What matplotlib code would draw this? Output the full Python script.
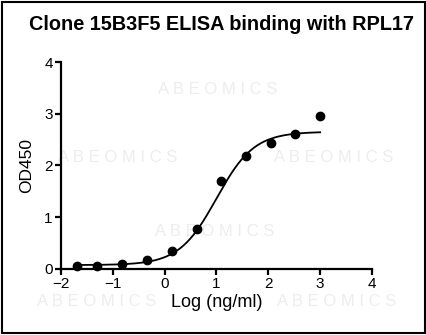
import numpy as np
import matplotlib
matplotlib.use("Agg")
import matplotlib.pyplot as plt
from matplotlib.patches import Rectangle

# Datos
log_conc = [-1.70, -1.30, -0.82, -0.34, 0.14, 0.62, 1.08, 1.57, 2.05, 2.52, 3.00]
od450 = [0.06, 0.06, 0.09, 0.17, 0.35, 0.76, 1.70, 2.18, 2.43, 2.61, 2.95]

# Parametros del ajuste 4PL (curva dibujada)
fit_bottom = 0.07
fit_top = 2.65
fit_logec50 = 1.0
fit_hill = 1.2

title = "Clone 15B3F5 ELISA binding with RPL17"
xticks = [-2, -1, 0, 1, 2, 3, 4]
yticks = [0, 1, 2, 3, 4]

plt.rcParams["font.family"] = ["Liberation Sans", "DejaVu Sans"]

fig = plt.figure(figsize=(4.27, 3.35), dpi=100)
ax = fig.add_axes([61 / 427, 66.3 / 335, 311 / 427, 206.7 / 335])
ax.set_zorder(1)  # ejes por encima de las marcas de agua

# marcas de agua
wm = dict(color="#ededed", fontsize=12, ha="center", va="center", zorder=0)
fig.text(218 / 427, 1 - 90 / 335, "A B E O M I C S", **wm)
fig.text(118 / 427, 1 - 157 / 335, "A B E O M I C S", **wm)
fig.text(334 / 427, 1 - 157 / 335, "A B E O M I C S", **wm)
fig.text(215 / 427, 1 - 232 / 335, "A B E O M I C S", **wm)
fig.text(97 / 427, 1 - 302 / 335, "A B E O M I C S", **wm)
fig.text(337 / 427, 1 - 302 / 335, "A B E O M I C S", **wm)

xs = np.linspace(min(log_conc), max(log_conc), 300)
ys = fit_bottom + (fit_top - fit_bottom) / (1 + 10 ** ((fit_logec50 - xs) * fit_hill))
ax.plot(xs, ys, color="black", lw=1.3, zorder=2)
ax.plot(log_conc, od450, "o", color="black", ms=6, zorder=3, clip_on=False)

ax.set_xlim(-2, 4)
ax.set_ylim(0, 4)
ax.set_xticks(xticks)
ax.set_yticks(yticks)
ax.patch.set_alpha(0)
for s in ["top", "right"]:
    ax.spines[s].set_visible(False)
for s in ["left", "bottom"]:
    ax.spines[s].set_linewidth(1.6)
ax.tick_params(width=1.6, length=4, labelsize=11, pad=2)
ax.set_xlabel("Log (ng/ml)", fontsize=13, labelpad=2)
ax.set_ylabel("OD450", fontsize=12.5, labelpad=7)

fig.text(222 / 427, 1 - 25 / 335, title, ha="center", va="center",
         fontsize=14.3, fontweight="bold")

# marco exterior
fig.patches.append(Rectangle((0.005, 0.005), 0.99, 0.99, transform=fig.transFigure,
                             fill=False, edgecolor="black", lw=1.5))

fig.savefig("out.png", dpi=100)
